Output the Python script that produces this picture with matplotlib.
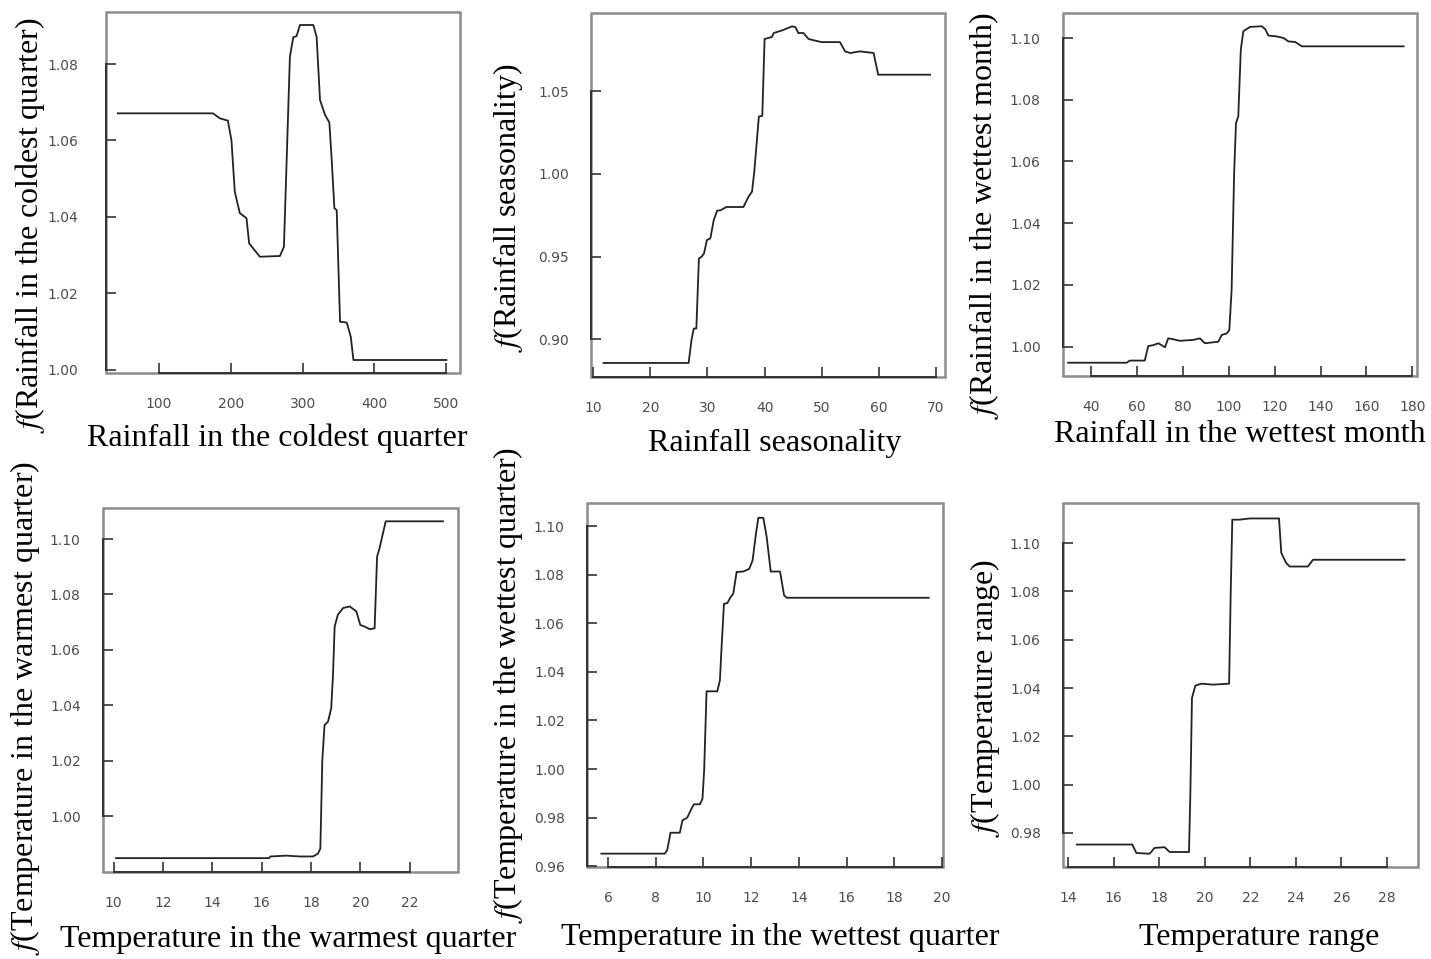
import numpy as np
import matplotlib
matplotlib.use('Agg')
import matplotlib.pyplot as plt
from matplotlib.patches import Rectangle

plt.rcParams['mathtext.fontset'] = 'stix'

# ---- data ----
coldest_x = [42.8, 175.3, 184.7, 196, 201, 205.6, 212.6, 221.9, 225.6, 240.5, 268.4, 274,
             282.3, 287, 291.6, 296.3, 314.9, 319.5, 324.2, 331.2, 337.2, 340.5, 344.2,
             347.4, 352.1, 361.4, 367, 370.7, 500]
coldest_y = [1.0671, 1.0671, 1.0658, 1.0652, 1.060, 1.0466, 1.041, 1.0397, 1.0331, 1.0296,
             1.0298, 1.0322, 1.0819, 1.087, 1.0873, 1.0902, 1.0902, 1.0871, 1.0706, 1.0667,
             1.0647, 1.0549, 1.0423, 1.0418, 1.0126, 1.0124, 1.0087, 1.0026, 1.0026]

season_x = [11.8, 26.7, 27.2, 27.6, 28.05, 28.5, 29.0, 29.4, 29.9, 30.5, 31.1, 31.7, 32.3,
            33.3, 36.3, 37.2, 37.8, 38.2, 39.0, 39.6, 40.0, 41.3, 41.6, 43.1, 44.8, 45.4,
            45.9, 46.8, 47.7, 48.6, 50.0, 53.2, 54.1, 55.0, 56.7, 59.1, 59.9, 69.0]
season_y = [0.8857, 0.8857, 0.8995, 0.9065, 0.9065, 0.9489, 0.950, 0.952, 0.960, 0.961,
            0.9721, 0.9778, 0.978, 0.980, 0.980, 0.9863, 0.9893, 1.0014, 1.0347, 1.0351,
            1.0816, 1.0828, 1.0852, 1.0868, 1.0892, 1.0888, 1.0852, 1.0852, 1.0816, 1.0808,
            1.0797, 1.0797, 1.0741, 1.0731, 1.0741, 1.0731, 1.060, 1.060]

wetmonth_x = [30.1, 55.6, 57.0, 63.5, 65.0, 67.2, 69.4, 70.8, 72.3, 73.7, 75.9, 78.8, 84.6,
              87.5, 89.7, 91.9, 95.5, 97.0, 99.2, 100.3, 101.3, 102.4, 103.2, 104.2, 105.3,
              106.4, 109.3, 114.4, 115.9, 117.3, 121.0, 123.9, 126.0, 129.0, 131.9, 176.2]
wetmonth_y = [0.9948, 0.9948, 0.9955, 0.9955, 1.0002, 1.0005, 1.0011, 1.0005, 0.9998, 1.0027,
              1.0024, 1.0019, 1.0022, 1.0027, 1.0011, 1.0013, 1.0016, 1.0038, 1.0043, 1.0054,
              1.0184, 1.0562, 1.0724, 1.0746, 1.0962, 1.1022, 1.1036, 1.1038, 1.1029, 1.1008,
              1.1005, 1.1000, 1.0989, 1.0987, 1.0973, 1.0973]

warm_x = [10.1, 16.3, 16.35, 17.0, 17.54, 18.08, 18.28, 18.38, 18.46, 18.55, 18.69, 18.82,
          18.89, 18.96, 19.09, 19.3, 19.57, 19.84, 20.0, 20.18, 20.38, 20.58, 20.68, 20.78,
          20.89, 21.03, 23.35]
warm_y = [0.9849, 0.9849, 0.9855, 0.9858, 0.9855, 0.9855, 0.9865, 0.9883, 1.0202, 1.0329,
          1.0341, 1.0389, 1.0504, 1.0684, 1.0727, 1.0751, 1.0757, 1.0739, 1.0690, 1.0684,
          1.0675, 1.0678, 1.0937, 1.0967, 1.1010, 1.1064, 1.1064]

wetq_x = [5.72, 8.38, 8.48, 8.62, 9.01, 9.12, 9.32, 9.5, 9.6, 9.85, 9.96, 10.03, 10.13, 10.58,
          10.69, 10.76, 10.86, 11.0, 11.14, 11.25, 11.39, 11.67, 11.92, 12.06, 12.2, 12.3,
          12.51, 12.65, 12.82, 13.21, 13.38, 13.49, 19.44]
wetq_y = [0.9652, 0.9652, 0.9666, 0.9738, 0.9738, 0.9789, 0.980, 0.9837, 0.9855, 0.9855,
          0.9878, 0.9995, 1.032, 1.032, 1.0365, 1.0502, 1.068, 1.0683, 1.0708, 1.0722, 1.0811,
          1.0813, 1.0824, 1.0859, 1.0968, 1.1034, 1.1034, 1.0955, 1.0813, 1.0813, 1.0715,
          1.0705, 1.0705]

range_x = [14.39, 16.82, 17.0, 17.58, 17.8, 18.24, 18.46, 19.31, 19.37, 19.44, 19.59, 19.85,
           20.36, 21.07, 21.14, 21.21, 21.53, 21.97, 23.26, 23.36, 23.58, 23.73, 24.53, 24.75,
           28.77]
range_y = [0.9752, 0.9752, 0.9717, 0.9714, 0.9738, 0.9741, 0.9721, 0.9721, 0.9966, 1.0359,
           1.041, 1.0418, 1.0414, 1.0418, 1.0793, 1.1097, 1.1097, 1.1102, 1.1102, 1.0959,
           1.0917, 1.0903, 1.0903, 1.0931, 1.0931]

names = ['Rainfall in the coldest quarter', 'Rainfall seasonality',
         'Rainfall in the wettest month', 'Temperature in the warmest quarter',
         'Temperature in the wettest quarter', 'Temperature range']
xs = [coldest_x, season_x, wetmonth_x, warm_x, wetq_x, range_x]
ys = [coldest_y, season_y, wetmonth_y, warm_y, wetq_y, range_y]
xticks = [np.arange(100, 501, 100), np.arange(10, 71, 10), np.arange(40, 181, 20),
          np.arange(10, 23, 2), np.arange(6, 21, 2), np.arange(14, 29, 2)]
yticks = [[1.00, 1.02, 1.04, 1.06, 1.08], [0.90, 0.95, 1.00, 1.05],
          [1.00, 1.02, 1.04, 1.06, 1.08, 1.10], [1.00, 1.02, 1.04, 1.06, 1.08, 1.10],
          [0.96, 0.98, 1.00, 1.02, 1.04, 1.06, 1.08, 1.10],
          [0.98, 1.00, 1.02, 1.04, 1.06, 1.08, 1.10]]
xlims = [(26.4, 519), (9.6, 71.6), (27.9, 182), (9.57, 23.96), (5.12, 20.04), (13.78, 29.36)]
ylims = [(0.9992, 1.0936), (0.8772, 1.0973), (0.9905, 1.1081), (0.9799, 1.1112),
         (0.9597, 1.1095), (0.9659, 1.1166)]

# layout in pixels: left, top, right, bottom
W, H = 1431, 959
boxes = [(106, 12, 460, 373), (591, 13, 945, 377), (1063, 13, 1417, 376),
         (103, 508, 458, 872), (587, 503, 943, 867), (1063, 503, 1418, 867)]
ylab_pos = [(30, 225), (508, 208), (984, 216), (25, 708), (508, 685), (985, 698)]
xlab_pos = [(277, 438), (775, 443), (1240, 435), (288, 940), (780, 938), (1259, 938)]

fig = plt.figure(figsize=(W / 100, H / 100), dpi=100)
serif = 'Liberation Serif'

for i in range(6):
    l, t, r, b = boxes[i]
    ax = fig.add_axes([l / W, 1 - b / H, (r - l) / W, (b - t) / H])
    ax.plot(xs[i], ys[i], color='#222222', lw=1.3)
    ax.set_xlim(*xlims[i])
    ax.set_ylim(*ylims[i])
    ax.set_xticks(xticks[i])
    ax.set_yticks(yticks[i])
    ax.set_yticklabels(['%.2f' % v for v in yticks[i]])
    ax.tick_params(direction='in', length=7, width=1.2, color='#333333',
                   labelsize=10, labelcolor='#4d4d4d')
    ax.tick_params(axis='x', pad=17)
    ax.tick_params(axis='y', pad=16 if i != 0 else 20)
    for s in ['top', 'right']:
        ax.spines[s].set_visible(False)
    ax.spines['left'].set_bounds(yticks[i][0], yticks[i][-1])
    ax.spines['bottom'].set_bounds(xticks[i][0], xticks[i][-1])
    for s in ['left', 'bottom']:
        ax.spines[s].set_color('#333333')
        ax.spines[s].set_linewidth(1.4)
    ax.add_patch(Rectangle((0, 0), 1, 1, transform=ax.transAxes, fill=False,
                           ec='#8c8c8c', lw=1.8, clip_on=False, zorder=0))

    fig.text(ylab_pos[i][0] / W, 1 - ylab_pos[i][1] / H, r'$f$(' + names[i] + ')',
             rotation=90, ha='center', va='center', fontsize=23, family=serif,
             zorder=5)
    xl = fig.text(xlab_pos[i][0] / W, 1 - xlab_pos[i][1] / H, names[i],
                  ha='center', va='center', fontsize=23, family=serif, zorder=4)
    if i == 3:
        # the label box hides the bottom of the tick labels, as in the source
        xl.set_bbox(dict(boxstyle='square,pad=0.35', fc='white', ec='none'))

fig.savefig('out.png', dpi=100, facecolor='white')
